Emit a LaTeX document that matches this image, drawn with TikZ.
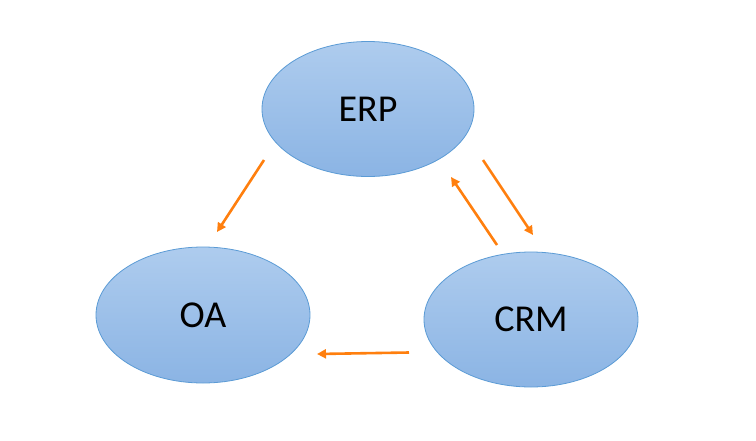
\documentclass[tikz,border=0pt]{standalone}
\usepackage{fontspec}
\setmainfont{Carlito}
\usetikzlibrary{shapes.geometric,arrows.meta}
\definecolor{ellborder}{HTML}{5B9BD5}
\definecolor{elltop}{HTML}{AECCEE}
\definecolor{ellbot}{HTML}{8BB4E4}
\definecolor{arrorange}{HTML}{FF7F0E}
\tikzset{
  sysnode/.style={ellipse, draw=ellborder, line width=0.8pt, top color=elltop, bottom color=ellbot,
    inner sep=0pt, font=\fontsize{38}{40}\selectfont},
  flow/.style={draw=arrorange, line width=2.6pt, -{Triangle[length=9pt,width=9pt]}}
}
\begin{document}
\begin{tikzpicture}[x=1pt,y=-1pt]
\useasboundingbox (0,0) rectangle (756,440);
\node[sysnode, minimum width=212pt, minimum height=135pt] (erp) at (368,109) {ERP};
\node[sysnode, minimum width=214pt, minimum height=136pt] (oa) at (203,315) {OA};
\node[sysnode, minimum width=214pt, minimum height=135pt] (crm) at (531,319.5) {CRM};
\coordinate (eo1) at (264,160);
\coordinate (eo2) at (217,232);
\coordinate (ce1) at (497,245);
\coordinate (ce2) at (451,177);
\coordinate (ec1) at (483,160);
\coordinate (ec2) at (533,235);
\coordinate (co1) at (409,352.5);
\coordinate (co2) at (317,354);
\draw[flow] (eo1) -- (eo2);
\draw[flow] (ce1) -- (ce2);
\draw[flow] (ec1) -- (ec2);
\draw[flow] (co1) -- (co2);
\end{tikzpicture}
\end{document}
